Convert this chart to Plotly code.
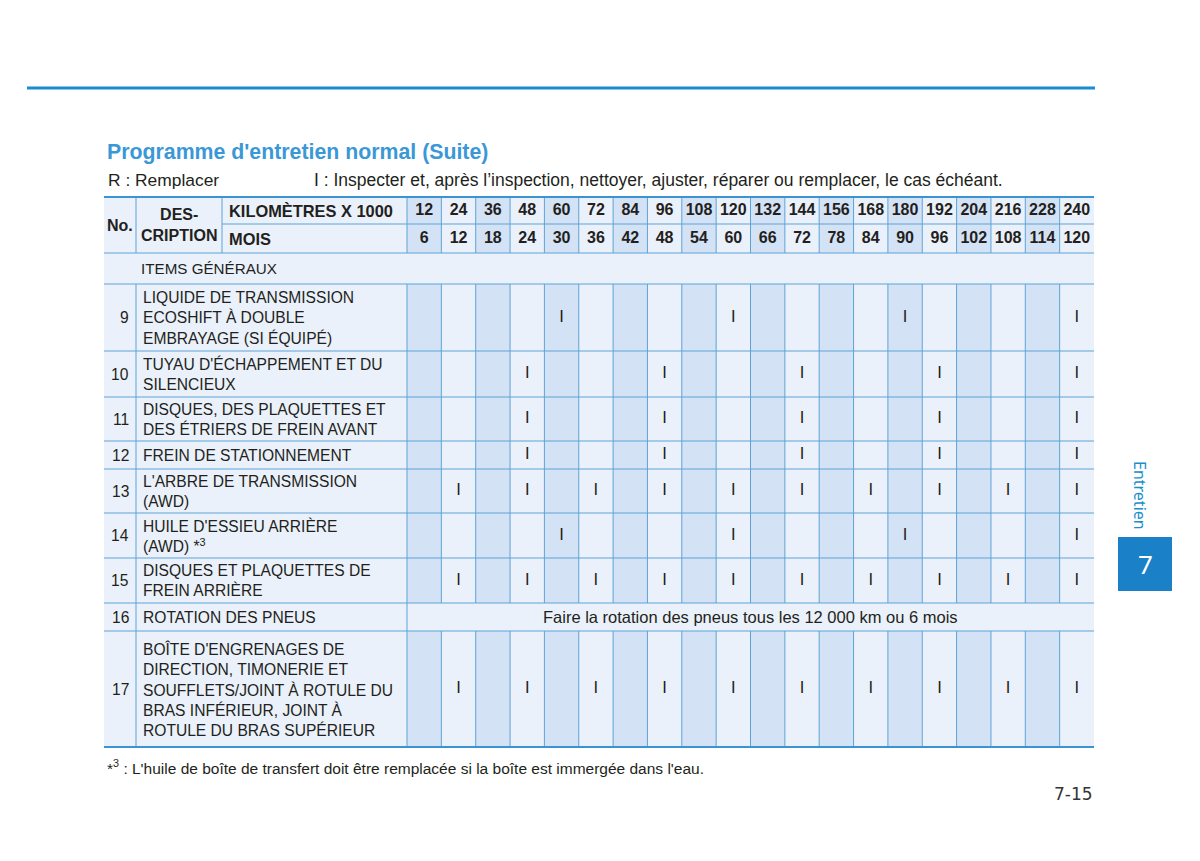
import plotly.graph_objects as go

# ---------------- data ----------------
km = [12, 24, 36, 48, 60, 72, 84, 96, 108, 120, 132, 144, 156, 168, 180, 192, 204, 216, 228, 240]
mois = [6, 12, 18, 24, 30, 36, 42, 48, 54, 60, 66, 72, 78, 84, 90, 96, 102, 108, 114, 120]
item_no = [9, 10, 11, 12, 13, 14, 15, 16, 17]
item_desc = [
    "LIQUIDE DE TRANSMISSION<br>ECOSHIFT À DOUBLE<br>EMBRAYAGE (SI ÉQUIPÉ)",
    "TUYAU D'ÉCHAPPEMENT ET DU<br>SILENCIEUX",
    "DISQUES, DES PLAQUETTES ET<br>DES ÉTRIERS DE FREIN AVANT",
    "FREIN DE STATIONNEMENT",
    "L'ARBRE DE TRANSMISSION<br>(AWD)",
    "HUILE D'ESSIEU ARRIÈRE<br>(AWD) *<sup>3</sup>",
    "DISQUES ET PLAQUETTES DE<br>FREIN ARRIÈRE",
    "ROTATION DES PNEUS",
    "BOÎTE D'ENGRENAGES DE<br>DIRECTION, TIMONERIE ET<br>SOUFFLETS/JOINT À ROTULE DU<br>BRAS INFÉRIEUR, JOINT À<br>ROTULE DU BRAS SUPÉRIEUR",
]
item_marks = [
    [60, 120, 180, 240],
    [48, 96, 144, 192, 240],
    [48, 96, 144, 192, 240],
    [48, 96, 144, 192, 240],
    [24, 48, 72, 96, 120, 144, 168, 192, 216, 240],
    [60, 120, 180, 240],
    [24, 48, 72, 96, 120, 144, 168, 192, 216, 240],
    None,
    [24, 48, 72, 96, 120, 144, 168, 192, 216, 240],
]
item_note = {16: "Faire la rotation des pneus tous les 12 000 km ou 6 mois"}
mark_symbol = "I"

title = "Programme d'entretien normal (Suite)"
legend_r = "R : Remplacer"
legend_i = "I : Inspecter et, après l’inspection, nettoyer, ajuster, réparer ou remplacer, le cas échéant."
group_label = "ITEMS GÉNÉRAUX"
footnote = "*<sup>3</sup> : L'huile de boîte de transfert doit être remplacée si la boîte est immergée dans l'eau."
page_no = "7-15"
tab_label = "Entretien"
tab_no = "7"

# ---------------- layout constants ----------------
W, H = 1200, 861
OFF = 8  # page body margin compensation
X0, X_NO, X_DESC, X_GRID, X1 = 104, 136, 222, 407, 1094
Y_TOP, Y_H1, Y_H2, Y_GRP = 197, 224, 253, 284
row_bounds = [284, 351, 397, 441, 469, 513, 558, 603, 631, 747]
ncol = len(km)
cw = (X1 - X_GRID) / ncol

SHADE = "#d3e2f5"
LIGHT = "#eaf1fa"
LINE = "#5da3d6"
THICK = "#3b93d2"
TXT = "#231f20"
FONT = "Liberation Sans, Arial, sans-serif"

shapes = []
def rect(x0, y0, x1, y1, color, layer="below"):
    shapes.append(dict(type="rect", xref="x", yref="y", x0=x0, y0=y0, x1=x1, y1=y1,
                       fillcolor=color, line=dict(width=0), layer=layer))
def line(x0, y0, x1, y1, color=LINE, w=1):
    shapes.append(dict(type="line", xref="x", yref="y", x0=x0, y0=y0, x1=x1, y1=y1,
                       line=dict(color=color, width=w)))

# top page rule
line(27, 88, 1095, 88, "#1b8bd0", 3)

# header backgrounds
rect(X0, Y_TOP, X_GRID, Y_H2, LIGHT)
for i in range(ncol):
    c = SHADE if i % 2 == 0 else LIGHT
    rect(X_GRID + i * cw, Y_TOP, X_GRID + (i + 1) * cw, Y_H2, c)
# group row
rect(X0, Y_H2, X1, Y_GRP, LIGHT)
# body rows
for r, no in enumerate(item_no):
    y0, y1 = row_bounds[r], row_bounds[r + 1]
    rect(X0, y0, X_GRID, y1, LIGHT)
    if item_marks[r] is None:
        rect(X_GRID, y0, X1, y1, LIGHT)
    else:
        for i in range(ncol):
            c = SHADE if i % 2 == 0 else LIGHT
            rect(X_GRID + i * cw, y0, X_GRID + (i + 1) * cw, y1, c)

# grid lines
line(X_DESC, Y_H1, X1, Y_H1)
line(X0, Y_H2, X1, Y_H2)
for yb in row_bounds[:-1]:
    line(X0, yb, X1, yb)
for xv in [X_NO, X_DESC]:
    line(xv, Y_TOP, xv, Y_H2)
for i in range(ncol):
    xv = X_GRID + i * cw
    line(xv, Y_TOP, xv, Y_H2)
for r in range(len(item_no)):
    y0, y1 = row_bounds[r], row_bounds[r + 1]
    line(X_NO, y0, X_NO, y1)
    line(X_GRID, y0, X_GRID, y1)
    if item_marks[r] is not None:
        for i in range(1, ncol):
            xv = X_GRID + i * cw
            line(xv, y0, xv, y1)
line(X0, Y_TOP, X1, Y_TOP, THICK, 2)
line(X0, row_bounds[-1], X1, row_bounds[-1], THICK, 2)

# side tab
rect(1118, 537, 1172, 591, "#1a80c8", layer="above")

ann = []
def text(x, y, s, size=15.6, bold=False, color=TXT, xa="left", ya="middle", align="left", font=FONT, angle=0):
    ann.append(dict(x=x, y=y, xref="x", yref="y", text=f"<b>{s}</b>" if bold else s,
                    showarrow=False, xanchor=xa, yanchor=ya, align=align, textangle=angle,
                    font=dict(size=size, color=color, family=font)))

text(105, 152, title, size=21.3, bold=True, color="#3a98d6")
text(106, 180, legend_r, size=17.4)
text(312, 180, legend_i, size=17.5)

text((X0 + X_NO) / 2, (Y_TOP + Y_H2) / 2, "No.", bold=True, xa="center", size=16)
text((X_NO + X_DESC) / 2, (Y_TOP + Y_H2) / 2, "DES-<br>CRIPTION", bold=True, xa="center", align="center", size=16)
text(X_DESC + 5, (Y_TOP + Y_H1) / 2, "KILOMÈTRES X 1000", bold=True, size=16.4)
text(X_DESC + 5, (Y_H1 + Y_H2) / 2, "MOIS", bold=True, size=16.4)

fig = go.Figure()
xc = [X_GRID + (i + 0.5) * cw for i in range(ncol)]
fig.add_trace(go.Scatter(x=xc, y=[(Y_TOP + Y_H1) / 2] * ncol, text=[f"<b>{v}</b>" for v in km],
                         mode="text", textfont=dict(size=16, color=TXT, family=FONT), hoverinfo="skip"))
fig.add_trace(go.Scatter(x=xc, y=[(Y_H1 + Y_H2) / 2] * ncol, text=[f"<b>{v}</b>" for v in mois],
                         mode="text", textfont=dict(size=16, color=TXT, family=FONT), hoverinfo="skip"))

text(139, (Y_H2 + Y_GRP) / 2, group_label, size=15.2)

mx, my = [], []
for r, no in enumerate(item_no):
    yc = (row_bounds[r] + row_bounds[r + 1]) / 2
    text(X_NO - 5, yc, str(no), xa="right")
    text(X_NO + 5, yc, item_desc[r])
    if item_marks[r] is None:
        text((X_GRID + X1) / 2, yc, item_note[no], xa="center", size=16.5)
    else:
        for k in item_marks[r]:
            mx.append(X_GRID + (km.index(k) + 0.5) * cw)
            my.append(yc)
fig.add_trace(go.Scatter(x=mx, y=my, text=[mark_symbol] * len(mx), mode="text",
                         textfont=dict(size=16.5, color=TXT, family=FONT), hoverinfo="skip"))

text(105, 767, footnote, size=15.5)
text(1095, 794, page_no, size=17, xa="right", font="DejaVu Sans, sans-serif", color="#333")
text(1140, 495, tab_label, size=16, color="#1a8fd0", xa="center", angle=90, font="Noto Sans, sans-serif")
text(1145, 564, tab_no, size=26, color="white", xa="center", font="Noto Sans, sans-serif")

fig.update_layout(
    width=W - OFF, height=H - OFF, margin=dict(l=0, r=0, t=0, b=0),
    paper_bgcolor="white", plot_bgcolor="white", showlegend=False,
    xaxis=dict(range=[OFF, W], visible=False, fixedrange=True),
    yaxis=dict(range=[H, OFF], visible=False, fixedrange=True),
    shapes=shapes, annotations=ann,
)
fig.write_html("out.html")
